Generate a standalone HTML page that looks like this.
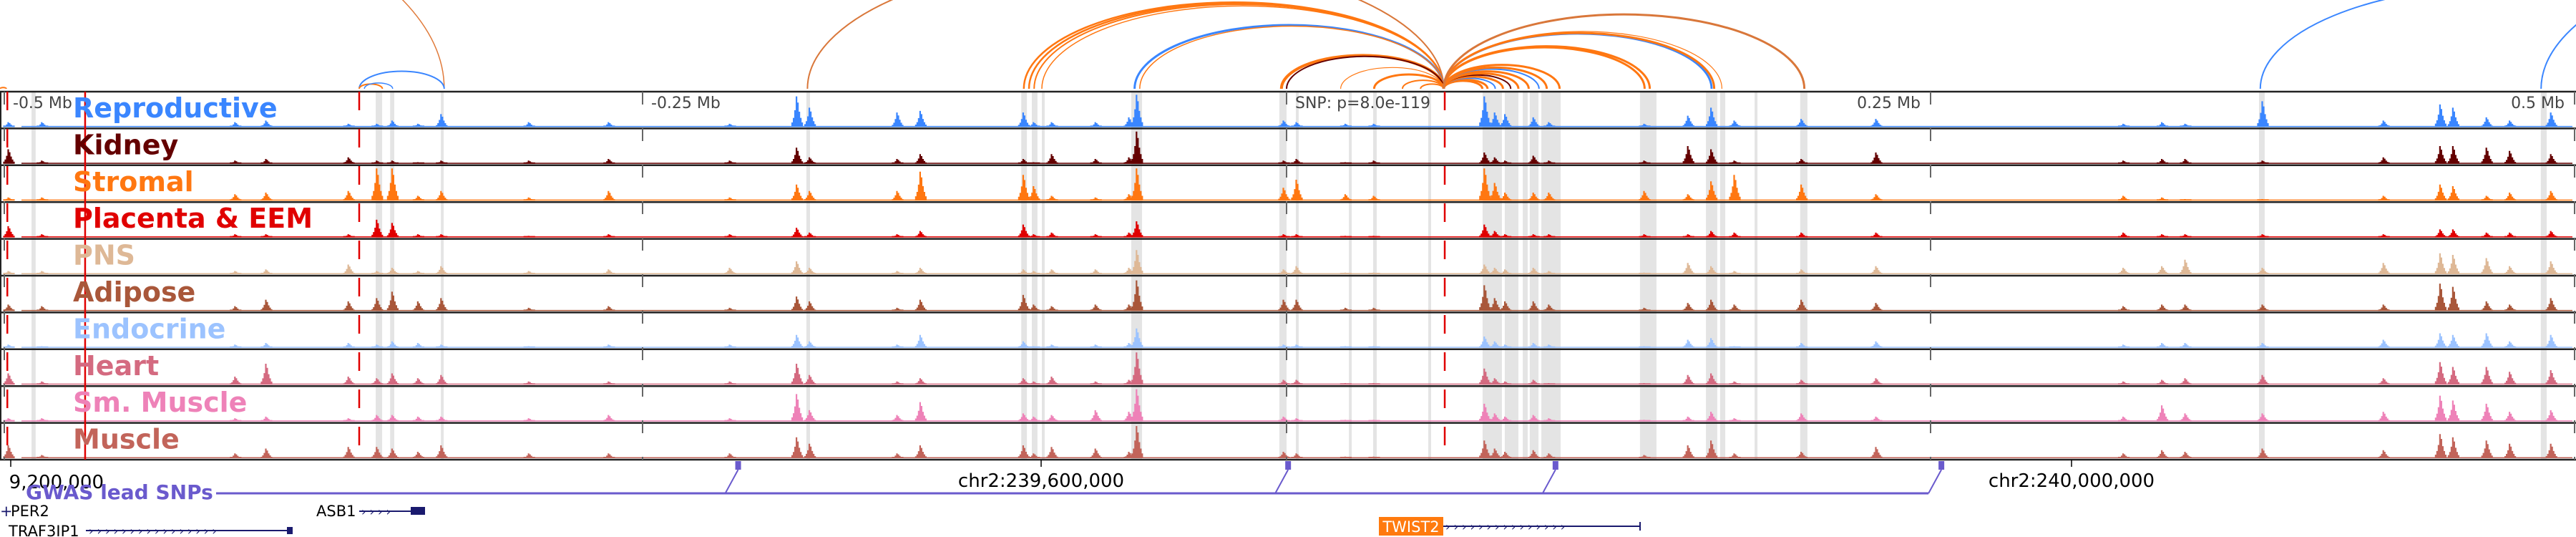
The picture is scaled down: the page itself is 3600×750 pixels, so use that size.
<!DOCTYPE html>
<html><head><meta charset="utf-8">
<style>
html,body{margin:0;padding:0;background:#fff;}
svg{display:block;}
text{font-family:"DejaVu Sans","Liberation Sans",sans-serif;}
</style></head>
<body>
<svg id="fig" width="3600" height="750" viewBox="0 0 3600 750" xmlns="http://www.w3.org/2000/svg">
  <g id="bands"></g>
  <g id="arcs"></g>
  <g id="tracks"></g>
  <g id="vlines"></g>
  <g id="labels"></g>
  <g id="axis">
    <line x1="15" y1="642" x2="15" y2="652" stroke="#000" stroke-width="1.5"/>
    <line x1="1455" y1="642" x2="1455" y2="652" stroke="#000" stroke-width="1.5"/>
    <line x1="2895" y1="642" x2="2895" y2="652" stroke="#000" stroke-width="1.5"/>
    <text x="145" y="682" font-size="26" text-anchor="end" fill="#000">9,200,000</text>
    <text x="1455" y="680" font-size="26" text-anchor="middle" fill="#000">chr2:239,600,000</text>
    <text x="2895" y="680" font-size="26" text-anchor="middle" fill="#000">chr2:240,000,000</text>
  </g>
  <g id="gwas">
    <text x="36" y="697" font-size="28" font-weight="bold" fill="#6a5acd">GWAS lead SNPs</text>
  </g>
  <g id="genes">
    <text x="0" y="721" font-size="21" fill="#1a1a6e">+</text>
    <text x="15" y="721" font-size="21" fill="#000">PER2</text>
    <text x="442" y="721" font-size="21" fill="#000">ASB1</text>
    <line x1="502" y1="714" x2="575" y2="714" stroke="#1a1a6e" stroke-width="2"/>
    <text x="505" y="720" font-size="16" fill="#1a1a6e">›  ›  ›  ›</text>
    <rect x="574" y="708" width="20" height="11" fill="#1a1a6e"/>
    <text x="12" y="749" font-size="21" fill="#000">TRAF3IP1</text>
    <line x1="120" y1="741" x2="408" y2="741" stroke="#1a1a6e" stroke-width="2"/>
    <text x="124" y="747" font-size="16" fill="#1a1a6e">›  ›  ›  ›  ›  ›  ›  ›  ›  ›  ›  ›  ›  ›  ›  ›</text>
    <rect x="401" y="736" width="8" height="10" fill="#1a1a6e"/>
    <rect x="1927" y="722" width="90" height="26" fill="#ff7a0e"/>
    <text x="1972" y="743" font-size="21" fill="#fff" text-anchor="middle">TWIST2</text>
    <line x1="2017" y1="735" x2="2292" y2="735" stroke="#1a1a6e" stroke-width="2"/>
    <text x="2020" y="741" font-size="16" fill="#1a1a6e">›  ›  ›  ›  ›  ›  ›  ›  ›  ›  ›  ›  ›  ›  ›</text>
    <line x1="2292" y1="729" x2="2292" y2="741" stroke="#1a1a6e" stroke-width="2"/>
  </g>
</svg>
<script>
// ---- data ----
const trackNames = ["Reproductive","Kidney","Stromal","Placenta & EEM","PNS","Adipose","Endocrine","Heart","Sm. Muscle","Muscle"];
const trackColors = ["#3a86ff","#640000","#ff7711","#e00000","#deb896","#a9573a","#9cc3ff","#d46a80","#ee82b8","#c2645a"];
// peak positions in kb relative to lead SNP tick
const peakKb = [-496,-483,-408,-396,-364,-353,-347,-337,-328,-294,-263,-216,-190,-185,-151,-142,-102,-98,-91,-74,-61,-58,-1,4,23,34,77,81,85,96,102,139,156,165,174,200,229,325,340,349,379,426,448,453,466,475,491];
const reproductiveVals = [.15,.15,.15,.2,.1,.1,.2,.1,.4,.15,.15,.1,.95,.6,.45,.5,.45,.15,.15,.15,.3,1,.2,.15,.1,.1,.95,.45,.4,.3,.15,.1,.35,.6,.2,.25,.25,.1,.15,.1,.8,.2,.7,.6,.3,.2,.45];
const kidneyVals = [.45,.1,.1,.15,.2,.1,.1,.05,.1,.1,.15,.1,.5,.2,.15,.3,.15,.05,.3,.15,.2,1,.1,.15,.05,.1,.35,.2,.1,.25,.1,.1,.55,.45,.1,.15,.35,.1,.15,.15,.1,.2,.55,.55,.5,.4,.3];
const stromalVals = [.1,.1,.2,.25,.3,1,1,.15,.3,.1,.3,.1,.5,.3,.3,.9,.8,.45,.15,.1,.2,1,.4,.65,.2,.15,1,.55,.25,.25,.25,.3,.2,.6,.8,.5,.2,.15,.1,.05,.05,.15,.5,.45,.15,.25,.3];
const placentaVals = [.35,.1,.1,.1,.1,.55,.45,.1,.1,.05,.1,.1,.3,.15,.1,.2,.4,.1,.15,.1,.15,.5,.1,.1,.05,.05,.4,.2,.1,.1,.1,.1,.1,.2,.15,.15,.15,.15,.1,.1,.1,.1,.25,.25,.15,.15,.2];
const pnsVals = [.1,.1,.1,.15,.3,.1,.2,.1,.25,.1,.15,.2,.4,.2,.1,.2,.15,.1,.15,.15,.2,.75,.15,.25,.05,.05,.3,.2,.15,.2,.1,.05,.35,.25,.1,.15,.25,.2,.25,.45,.2,.35,.65,.6,.5,.25,.4];
const adiposeVals = [.2,.15,.15,.35,.3,.4,.6,.3,.4,.1,.15,.1,.45,.3,.1,.35,.5,.2,.15,.2,.2,.95,.35,.35,.1,.1,.8,.4,.3,.3,.2,.1,.25,.35,.2,.35,.25,.15,.2,.2,.2,.2,.85,.75,.3,.2,.4];
const endocrineVals = [.1,.05,.1,.15,.15,.1,.2,.15,.1,.05,.1,.1,.4,.2,.1,.4,.2,.05,.1,.1,.15,.6,.1,.1,.05,.05,.35,.2,.1,.15,.1,.05,.25,.3,.05,.15,.2,.1,.15,.15,.15,.25,.45,.4,.45,.2,.4];
const heartVals = [.35,.1,.25,.65,.25,.2,.35,.2,.3,.1,.1,.1,.65,.3,.1,.2,.2,.1,.25,.1,.15,1,.15,.15,.05,.05,.5,.2,.1,.15,.05,.05,.3,.35,.1,.15,.2,.1,.15,.2,.3,.2,.7,.55,.55,.4,.45];
const smMuscleVals = [.1,.1,.1,.15,.1,.2,.2,.15,.15,.1,.2,.1,.85,.35,.2,.6,.25,.15,.2,.35,.3,1,.15,.1,.05,.05,.55,.25,.15,.2,.1,.05,.15,.3,.1,.25,.15,.15,.5,.25,.25,.3,.8,.65,.55,.3,.35];
const muscleVals = [.4,.1,.15,.3,.35,.35,.3,.2,.4,.15,.15,.15,.65,.45,.15,.4,.4,.15,.35,.3,.2,1,.2,.15,.05,.05,.55,.3,.2,.25,.15,.1,.4,.55,.15,.2,.35,.15,.25,.2,.3,.25,.75,.65,.55,.45,.45];
const trackVals = [reproductiveVals,kidneyVals,stromalVals,placentaVals,pnsVals,adiposeVals,endocrineVals,heartVals,smMuscleVals,muscleVals];
// highlight bands [startKb, endKb]
const bandStartKb = [-487.2,-353.6,-348,-328.3,-186.4,-103,-98.9,-95,-60.3,-2.8,3.6,24.2,33.6,55,76.1,84.7,91.7,94.4,98.9,137.2,162.8,168.3,181.7,199.4,377.5,486.9];
const bandEndKb = [-485.6,-351.1,-346.4,-327.2,-185,-100.8,-96.7,-93.9,-56.1,0,4.7,25.3,35,56.1,83.6,90,93.6,97.8,106.4,143.6,167.2,170.3,182.8,202.2,379.7,489.2];
// arcs [leftKb, rightKb]
const arcLeftKb = [-777,-499.4,-360,-360,-358,-186,-102,-100,-98,-95,-59,-57,-2,0,21,34,45,52,61,61,61,61,61,61,61,61,61,61,61,61,61,61,61,61,378,487];
const arcRightKb = [-327,-497,-327,-351,-347,61,61,61,61,61,61,61,61,61,61,61,61,61,76,78,81,84,87,90,94,98,101,106,139,141,165,166,169,201,573,767];
const arcColors = ["#e07a3a","#ff7711","#3a86ff","#ff7711","#3a86ff","#d9773a","#ff7711","#ff7711","#ff7711","#ff7711","#3a86ff","#ff7711","#ff7711","#640000","#ff7711","#ff7711","#ff7711","#ff7711","#ff7711","#ff7711","#3a86ff","#ff7711","#640000","#ff7711","#ff7711","#3a86ff","#ff7711","#ff7711","#ff7711","#ff7711","#3a86ff","#ff7711","#ff7711","#d9773a","#3a86ff","#3a86ff"];
const arcWidths = [1.5,2,2,2,1.5,2,2.5,2.5,2,1.5,3,1.5,4,2,1.2,3,2,2,3,3,2,3,2,3,3,2,3,3,3,3,3,3,1.2,3,2,2];
const tickKb = [-500,-250,0,250,500];
const tickLabels = ["-0.5 Mb","-0.25 Mb","SNP: p=8.0e-119","0.25 Mb","0.5 Mb"];
const hitKb = [-496.6,-466.4,-360,61.4];
const gwasKb = [-212.9,0.6,104.4,254.2];

// ---- scales ----
const NS = "http://www.w3.org/2000/svg";
const X0 = 1798, PXKB = 3.6;
const xs = kb => X0 + kb * PXKB;
const TOP = 128, ROWH = 51.4, NT = trackNames.length, BOT = TOP + NT * ROWH;
const rowTop = i => TOP + i * ROWH;
const yv = (i, v) => rowTop(i) + ROWH - 2 - v * 45;
function mk(tag, attrs, parent) {
  const e = document.createElementNS(NS, tag);
  for (const k in attrs) e.setAttribute(k, attrs[k]);
  parent.appendChild(e);
  return e;
}
const gB = document.getElementById('bands'), gA = document.getElementById('arcs'),
      gT = document.getElementById('tracks'), gV = document.getElementById('vlines'),
      gL = document.getElementById('labels'), gG = document.getElementById('gwas');

// bands
bandStartKb.forEach((s, i) => {
  const r = mk('rect', {x: xs(s), y: TOP, width: Math.max(2, xs(bandEndKb[i]) - xs(s)), height: BOT - TOP, fill: '#e4e4e4'}, gB);
  
  
});

// arcs
const AY = 124;
arcLeftKb.forEach((l, i) => {
  const x1 = xs(l), x2 = xs(arcRightKb[i]);
  const a = (x2 - x1) / 2, h = 0.206 * (x2 - x1);
  const p = mk('path', {d: `M${x1},${AY} A${a},${h} 0 0 1 ${x2},${AY}`, fill: 'none', stroke: arcColors[i], 'stroke-width': arcWidths[i]}, gA);
  
  
});

// tracks
const peakShape = [[-7, .15], [-5, .3], [-3, .55], [-1, 1], [1, .8], [3, .5], [5, .3], [7, .15]];
trackNames.forEach((name, i) => {
  const g = mk('g', {}, gT);
  
  
  const base = mk('rect', {x: 30, y: yv(i, 0) - 1.5, width: 3565, height: 1.5, fill: trackColors[i]}, g);
  
  
  const vals = trackVals[i];
  let d = '';
  peakKb.forEach((kb, j) => {
    const cx = xs(kb), v = vals[j];
    peakShape.forEach(([dx, f]) => {
      const hh = Math.max(2, v * f * 45);
      d += `M${cx + dx - 1},${yv(i, 0)}h2.2v${-hh}h-2.2z`;
    });
  });
  const pk = mk('path', {d: d, fill: trackColors[i]}, g);
  
  
  const sep = mk('line', {x1: 0, y1: rowTop(i), x2: 3600, y2: rowTop(i), stroke: '#222', 'stroke-width': 2.5}, g);
  
  
  const lab = mk('text', {x: 102, y: rowTop(i) + 36, 'font-size': 38, 'font-weight': 'bold', fill: trackColors[i]}, gL);
  lab.textContent = name;
  
  
});
const bl = mk('line', {x1: 0, y1: BOT, x2: 3600, y2: BOT, stroke: '#222', 'stroke-width': 2.5}, gT);


const lb = mk('line', {x1: 1, y1: TOP, x2: 1, y2: BOT, stroke: '#222', 'stroke-width': 2}, gT);



// tick dashed lines + labels
tickKb.forEach((kb, i) => {
  const x = xs(kb) + (i === 0 ? 8 : 0);
  const ln = mk('line', {x1: x, y1: TOP, x2: x, y2: BOT, stroke: '#666', 'stroke-width': 2, 'stroke-dasharray': '18 33'}, gV);
  
  
  const right = kb > 0;
  const t = mk('text', {x: right ? x - 14 : x + 12, y: 151, 'font-size': 22, fill: '#444', 'text-anchor': right ? 'end' : 'start'}, gV);
  t.textContent = tickLabels[i];
  
  
});
hitKb.forEach((kb, i) => {
  const x = xs(kb);
  const ln = mk('line', {x1: x, y1: TOP, x2: x, y2: BOT, stroke: '#e00000', 'stroke-width': 2.5, 'stroke-dasharray': i === 1 ? 'none' : '26 26'}, gV);
  
  
});

// GWAS track
const gwLine = mk('path', {d: `M302,689H${xs(gwasKb[3]) - 18}`, stroke: '#6a5acd', 'stroke-width': 3, fill: 'none'}, gG);


gwasKb.forEach(kb => {
  const x = xs(kb);
  const m = mk('rect', {x: x - 4, y: 644, width: 8, height: 12, fill: '#6a5acd'}, gG);
  
  
  const c = mk('line', {x1: x, y1: 656, x2: x - 18, y2: 689, stroke: '#6a5acd', 'stroke-width': 2}, gG);
  
  
});
</script>
</body></html>
